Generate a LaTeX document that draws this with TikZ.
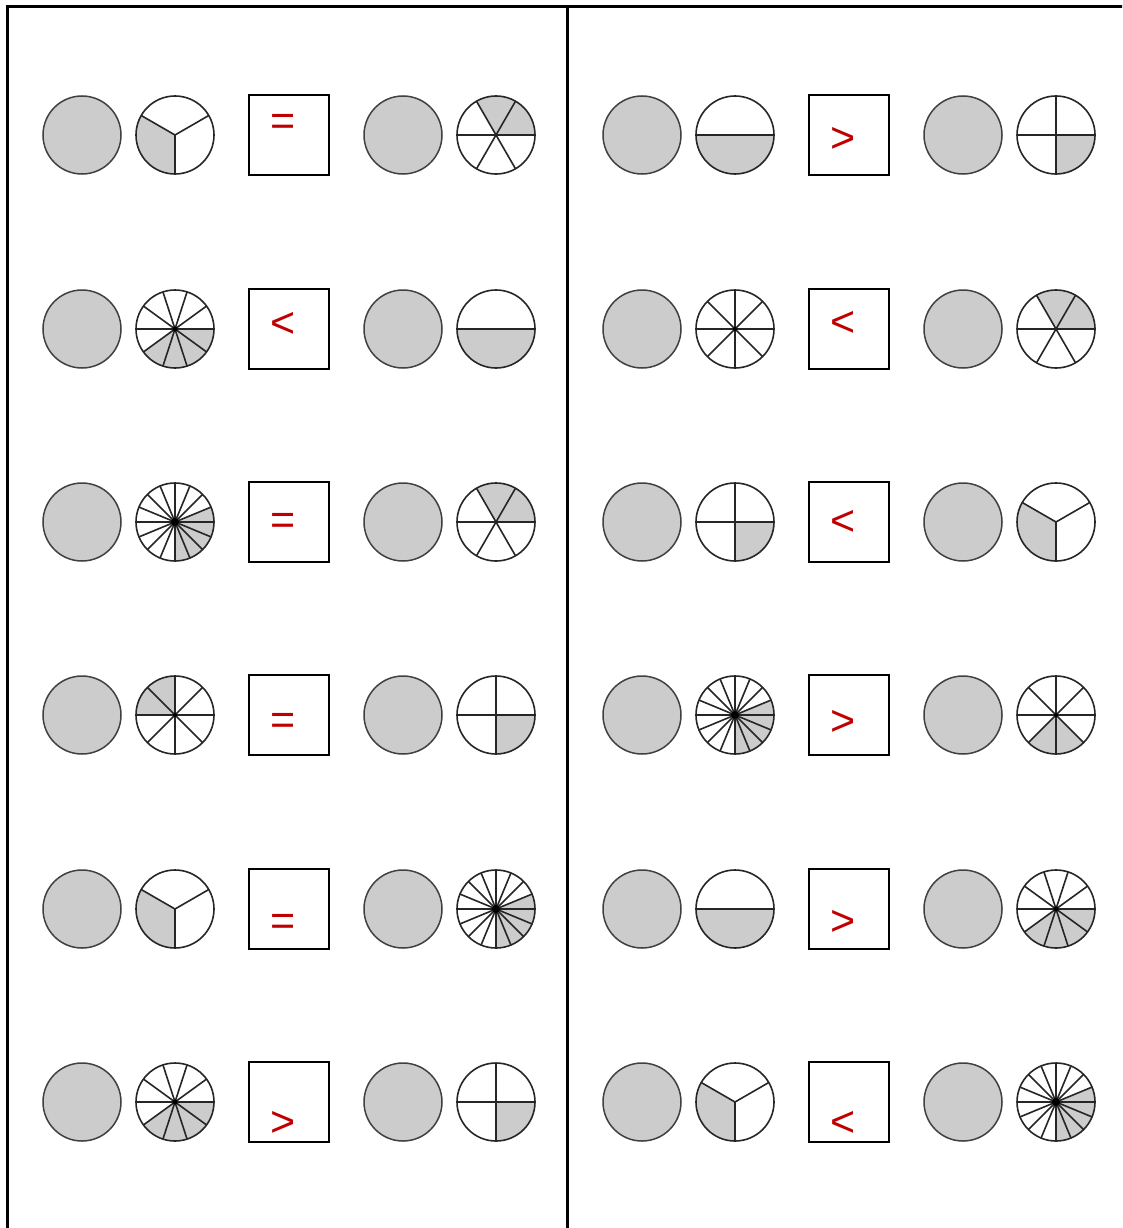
\documentclass[tikz,border=0pt]{standalone}
\usepackage{fontspec}
\setmainfont{Liberation Sans}
\definecolor{piegray}{HTML}{CCCCCC}
\definecolor{ansred}{HTML}{C00000}
\tikzset{
  pieline/.style={line width=1.6pt, draw=black!85},
  solidpie/.style={fill=piegray, draw=black!75, line width=1.5pt},
  ansbox/.style={draw=black, line width=2.2pt, minimum size=80pt, inner sep=0pt},
  anstext/.style={text=ansred, font=\fontsize{43}{43}\selectfont, inner sep=0pt},
  frameline/.style={line width=3pt, draw=black}
}
\newcommand\fracpie[6]{%
  \begin{scope}[shift={(#1,#2)}]
    \ifdim #5pt<#6pt \fill[piegray] (0,0) -- (#5:39) arc[start angle=#5, end angle=#6, radius=39] -- cycle;\fi
    \foreach \k in {1,...,#3} \draw[pieline] (0,0) -- ({#4+360/#3*\k}:39);
    \ifnum #3>7 \fill[black] (0,0) circle[radius={0.25*#3}];\fi
    \draw[pieline] (0,0) circle[radius=39];
  \end{scope}}
\newcommand\solidcirc[2]{\draw[solidpie] (#1,#2) circle[radius=39];}
\begin{document}
\begin{tikzpicture}[x=1pt,y=1pt]
\useasboundingbox (0,0) rectangle (1122,-1228);
\clip (0,0) rectangle (1122,-1228);
\fill[white] (0,0) rectangle (1122,-1228);
\draw[frameline] (1140,-7) -- (7,-7) -- (7,-1250);
\draw[frameline] (567,-7) -- (567,-1250);
% ---------------- left panel ----------------
% row 1
\solidcirc{82}{-135}
\fracpie{175}{-135}{3}{30}{150}{270}
\node[ansbox] (L1) at (289,-135) {};
\node[anstext] (L1s) at (283,-125) {=};
\solidcirc{403}{-135}
\fracpie{496}{-135}{6}{0}{0}{120}
% row 2
\solidcirc{82}{-329}
\fracpie{175}{-329}{10}{0}{216}{360}
\node[ansbox] (L2) at (289,-329) {};
\node[anstext] (L2s) at (283,-325) {<};
\solidcirc{403}{-329}
\fracpie{496}{-329}{2}{0}{180}{360}
% row 3
\solidcirc{82}{-522}
\fracpie{175}{-522}{16}{0}{270}{382.5}
\node[ansbox] (L3) at (289,-522) {};
\node[anstext] (L3s) at (283,-524) {=};
\solidcirc{403}{-522}
\fracpie{496}{-522}{6}{0}{0}{120}
% row 4
\solidcirc{82}{-715}
\fracpie{175}{-715}{8}{0}{90}{180}
\node[ansbox] (L4) at (289,-715) {};
\node[anstext] (L4s) at (283,-724) {=};
\solidcirc{403}{-715}
\fracpie{496}{-715}{4}{0}{270}{360}
% row 5
\solidcirc{82}{-909}
\fracpie{175}{-909}{3}{30}{150}{270}
\node[ansbox] (L5) at (289,-909) {};
\node[anstext] (L5s) at (283,-925) {=};
\solidcirc{403}{-909}
\fracpie{496}{-909}{16}{0}{270}{382.5}
% row 6
\solidcirc{82}{-1102}
\fracpie{175}{-1102}{10}{0}{216}{360}
\node[ansbox] (L6) at (289,-1102) {};
\node[anstext] (L6s) at (283,-1124) {>};
\solidcirc{403}{-1102}
\fracpie{496}{-1102}{4}{0}{270}{360}
% ---------------- right panel ----------------
% row 1
\solidcirc{642}{-135}
\fracpie{735}{-135}{2}{0}{180}{360}
\node[ansbox] (R1) at (849,-135) {};
\node[anstext] (R1s) at (843,-140) {>};
\solidcirc{963}{-135}
\fracpie{1056}{-135}{4}{0}{270}{360}
% row 2
\solidcirc{642}{-329}
\fracpie{735}{-329}{8}{0}{0}{0}
\node[ansbox] (R2) at (849,-329) {};
\node[anstext] (R2s) at (843,-324) {<};
\solidcirc{963}{-329}
\fracpie{1056}{-329}{6}{0}{0}{120}
% row 3
\solidcirc{642}{-522}
\fracpie{735}{-522}{4}{0}{270}{360}
\node[ansbox] (R3) at (849,-522) {};
\node[anstext] (R3s) at (843,-523) {<};
\solidcirc{963}{-522}
\fracpie{1056}{-522}{3}{30}{150}{270}
% row 4
\solidcirc{642}{-715}
\fracpie{735}{-715}{16}{0}{270}{382.5}
\node[ansbox] (R4) at (849,-715) {};
\node[anstext] (R4s) at (843,-723) {>};
\solidcirc{963}{-715}
\fracpie{1056}{-715}{8}{0}{225}{315}
% row 5
\solidcirc{642}{-909}
\fracpie{735}{-909}{2}{0}{180}{360}
\node[ansbox] (R5) at (849,-909) {};
\node[anstext] (R5s) at (843,-923) {>};
\solidcirc{963}{-909}
\fracpie{1056}{-909}{10}{0}{216}{360}
% row 6
\solidcirc{642}{-1102}
\fracpie{735}{-1102}{3}{30}{150}{270}
\node[ansbox] (R6) at (849,-1102) {};
\node[anstext] (R6s) at (843,-1124) {<};
\solidcirc{963}{-1102}
\fracpie{1056}{-1102}{16}{0}{270}{382.5}
\end{tikzpicture}
\end{document}
